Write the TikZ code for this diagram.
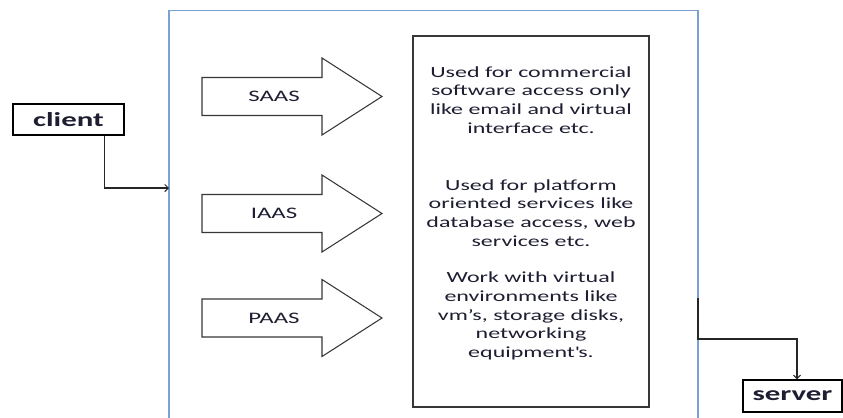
\documentclass[tikz,border=0pt]{standalone}
\usepackage{fontspec}
\setmainfont{Carlito}[FakeStretch=1.55]
\usetikzlibrary{arrows.meta, positioning}
\definecolor{cloudblue}{RGB}{122, 160, 212}
\definecolor{edgegray}{RGB}{55, 55, 55}
\definecolor{inktext}{RGB}{30, 30, 50}

\begin{document}
\begin{tikzpicture}[x=0.03cm, y=-0.03cm,
  endbox/.style={draw=black, line width=1.1pt, inner sep=0pt, text=inktext, font=\fontsize{17}{20}\selectfont\bfseries},
  svcarrow/.style={draw=edgegray, line width=0.9pt, fill=white},
  svclabel/.style={text=inktext, font=\fontsize{13.7}{16}\selectfont},
  desctext/.style={align=center, text=inktext, font=\fontsize{13.2}{16.1}\selectfont},
  link/.style={draw=black!85, line width=0.9pt, -{Straight Barb[length=3pt, width=6pt]}}]
  \useasboundingbox (0,0) rectangle (843,417);

  % outer frame (runs past the bottom edge)
  \draw[cloudblue, line width=1.6pt] (169,425) |- (698,10.5) -- (698,425);
  \coordinate (cloudin) at (169,188);
  \coordinate (cloudout) at (698,298);

  % client and server
  \node[endbox, minimum width=3.33cm, minimum height=0.93cm] (client) at (68.5,119.5) {client};
  \node[endbox, minimum width=2.97cm, minimum height=0.96cm] (server) at (792.5,396) {server};

  % service arrows
  \foreach \yc/\lbl/\nm in {96.5/SAAS/saas, 213.5/IAAS/iaas, 318/PAAS/paas} {
    \draw[svcarrow] (202,\yc-19) -- (322,\yc-19) -- (322,\yc-38.5) -- (382,\yc)
      -- (322,\yc+38.5) -- (322,\yc+19) -- (202,\yc+19) -- cycle;
    \node[svclabel] (\nm) at (274,\yc) {\lbl};
  }

  % description box
  \node[draw=edgegray, line width=1.1pt, minimum width=7.08cm, minimum height=11.13cm] (descbox) at (531,221.5) {};
  \node[desctext] (desc1) at (531,100) {Used for commercial\\software access only\\like email and virtual\\interface etc.};
  \node[desctext] (desc2) at (531,213) {Used for platform\\oriented services like\\database access, web\\services etc.};
  \node[desctext] (desc3) at (531,316) {Work with virtual\\environments like\\vm’s, storage disks,\\networking\\equipment\textquotesingle s.};

  % connectors
  \draw[link] ([xshift=-0.6cm]client.south east) |- (cloudin);
  \draw[link] (cloudout) -- ++(0,41) -| ([xshift=0.135cm]server.north);
\end{tikzpicture}
\end{document}
